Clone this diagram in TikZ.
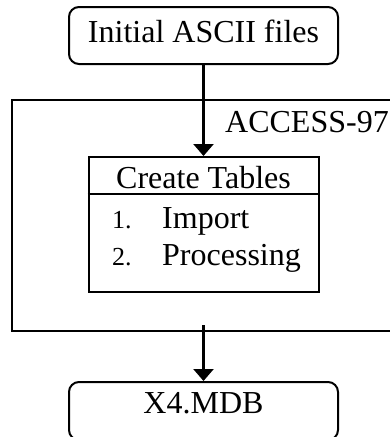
\documentclass[tikz,border=0pt]{standalone}
\usepackage{fontspec}
\setmainfont{Liberation Serif}
\usetikzlibrary{calc,arrows.meta}
\tikzset{
  box/.style={draw, line width=2pt, inner sep=0pt},
  rbox/.style={box, rounded corners=10pt, minimum width=269pt, minimum height=57pt},
  arr/.style={line width=2.4pt, -{Triangle[width=20pt,length=12pt]}},
  big/.style={font=\fontsize{32}{38}\selectfont, inner sep=0pt},
  num/.style={font=\fontsize{26}{30}\selectfont, inner sep=0pt}
}

\begin{document}
\begin{tikzpicture}[x=1pt,y=-1pt]
  \useasboundingbox (0,0) rectangle (390,437);
  \clip (0,0) rectangle (390,437);
  % top and bottom files
  \node[rbox, big, text height=22pt, text depth=9pt] (init) at (203.5,35.5) {Initial ASCII files};
  \node[rbox, big, minimum height=58pt, text height=22pt, text depth=18pt] (mdb) at (203.5,411) {X4.MDB};
  % access frame
  \draw[line width=2pt] (12,100) rectangle (400,331);
  \node[big, anchor=base west] (access) at (225,132) {ACCESS-97};
  \coordinate (out) at (203.5,325);
  % create tables box
  \node[box, minimum width=230pt, minimum height=135pt] (tables) at (203.5,224.5) {};
  \draw[line width=2pt] ($(tables.north west)+(0,38)$) -- ($(tables.north east)+(0,38)$);
  \node[big, anchor=base] (head) at (203.5,188) {Create Tables};
  \node[num, anchor=base west] (n1) at (112,228) {1.};
  \node[big, anchor=base west] (imp) at (162,228) {Import};
  \node[num, anchor=base west] (n2) at (112,265) {2.};
  \node[big, anchor=base west] (proc) at (162,265) {Processing};
  % arrows
  \draw[arr] (init.south) -- (tables.north);
  \draw[arr] (out) -- (mdb.north);
\end{tikzpicture}
\end{document}
